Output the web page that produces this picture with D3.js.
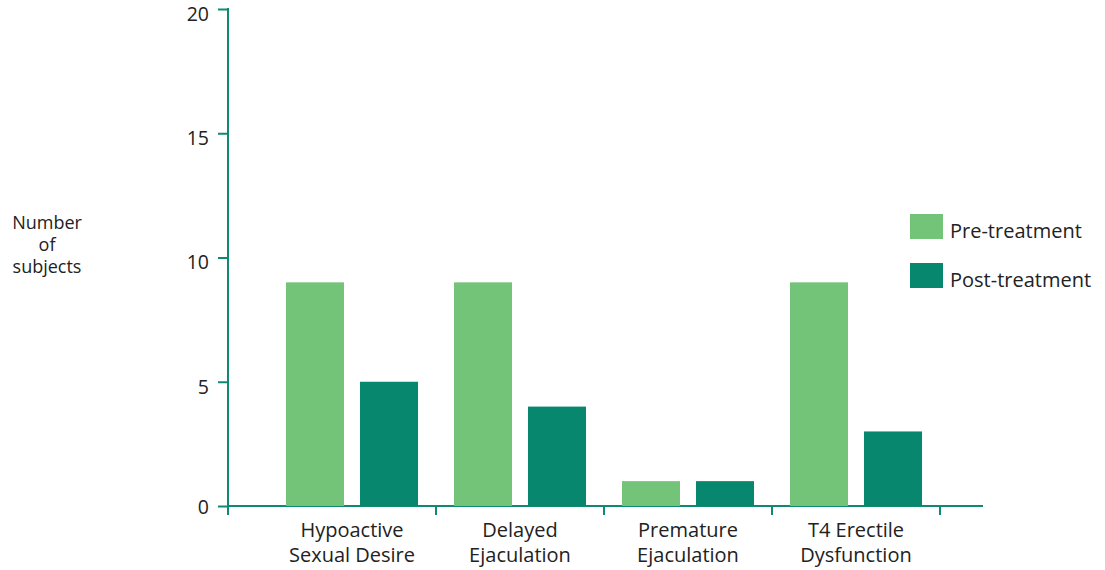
<!DOCTYPE html>
<head>
<meta charset="utf-8">
<script src="https://d3js.org/d3.v7.min.js"></script>
<style>
body { margin: 0; background: #fff; }
text { font-family: "Open Sans", "Noto Sans", sans-serif; fill: #222; }
.axis path, .axis line { stroke: #0E8A70; stroke-width: 2; }
</style>
</head>
<body>
<script>
var categories = [["Hypoactive", "Sexual Desire"], ["Delayed", "Ejaculation"], ["Premature", "Ejaculation"], ["T4 Erectile", "Dysfunction"]];
var seriesNames = ["Pre-treatment", "Post-treatment"];
var preValues = [9, 9, 1, 9];
var postValues = [5, 4, 1, 3];
var yTicks = [0, 5, 10, 15, 20];
var colors = ["#73C479", "#07876D"];

var width = 1105, height = 570;
var svg = d3.select("body").append("svg")
    .attr("width", width)
    .attr("height", height);

var keys = categories.map(function(c) { return c.join(" "); });
var data = keys.map(function(k, i) { return { key: k, lines: categories[i], values: [preValues[i], postValues[i]] }; });

var y = d3.scaleLinear().domain([0, 20]).range([506, 9]);
var x = d3.scaleBand().domain(keys).range([268, 940]);
var xInner = d3.scaleBand().domain([0, 1]).range([0, x.bandwidth()])
    .paddingInner(0.216).paddingOuter(0.243);

// y axis
var yAxis = svg.append("g")
    .attr("class", "axis")
    .attr("transform", "translate(228,0)")
    .call(d3.axisLeft(y).tickValues(yTicks).tickSize(10).tickPadding(9).tickSizeOuter(0));
yAxis.select(".domain").attr("d", "M0," + (y(20) - 1) + "V" + y(0));
yAxis.selectAll("text")
    .style("font-size", "19.5px")
    .attr("fill", "#222")
    .attr("y", function(d) { return d === 0 ? 1 : 5; });

// x axis line + separator ticks
var xg = svg.append("g").attr("class", "axis");
xg.append("line")
    .attr("x1", 228).attr("x2", 983)
    .attr("y1", y(0)).attr("y2", y(0));
var tickXs = [228].concat(keys.map(function(k) { return x(k) + x.step(); }));
xg.selectAll(".sep").data(tickXs).enter().append("line")
    .attr("class", "sep")
    .attr("x1", function(d) { return d; }).attr("x2", function(d) { return d; })
    .attr("y1", y(0)).attr("y2", y(0) + 9);

// bars
var groups = svg.selectAll(".grp").data(data).enter().append("g")
    .attr("class", "grp")
    .attr("transform", function(d) { return "translate(" + x(d.key) + ",0)"; });
groups.selectAll("rect").data(function(d) { return d.values; }).enter().append("rect")
    .attr("x", function(d, i) { return xInner(i); })
    .attr("width", xInner.bandwidth())
    .attr("y", function(d) { return y(d); })
    .attr("height", function(d) { return y(0) - y(d); })
    .attr("fill", function(d, i) { return colors[i]; });

// category labels
groups.each(function(d) {
    var t = d3.select(this).append("text")
        .attr("text-anchor", "middle")
        .style("font-size", "20px");
    d.lines.forEach(function(l, i) {
        t.append("tspan")
            .attr("x", x.bandwidth() / 2)
            .attr("y", 537 + i * 25)
            .text(l);
    });
});

// y label
var yl = svg.append("text").attr("text-anchor", "middle").style("font-size", "18px");
["Number", "of", "subjects"].forEach(function(l, i) {
    yl.append("tspan").attr("x", 47).attr("y", 229 + i * 22).text(l);
});

// legend
var leg = svg.selectAll(".leg").data(seriesNames).enter().append("g")
    .attr("class", "leg")
    .attr("transform", function(d, i) { return "translate(910," + (214 + i * 49) + ")"; });
leg.append("rect").attr("width", 33).attr("height", 25)
    .attr("fill", function(d, i) { return colors[i]; });
leg.append("text").attr("x", 40).attr("y", 24).style("font-size", "20px")
    .text(function(d) { return d; });
</script>
</body>
